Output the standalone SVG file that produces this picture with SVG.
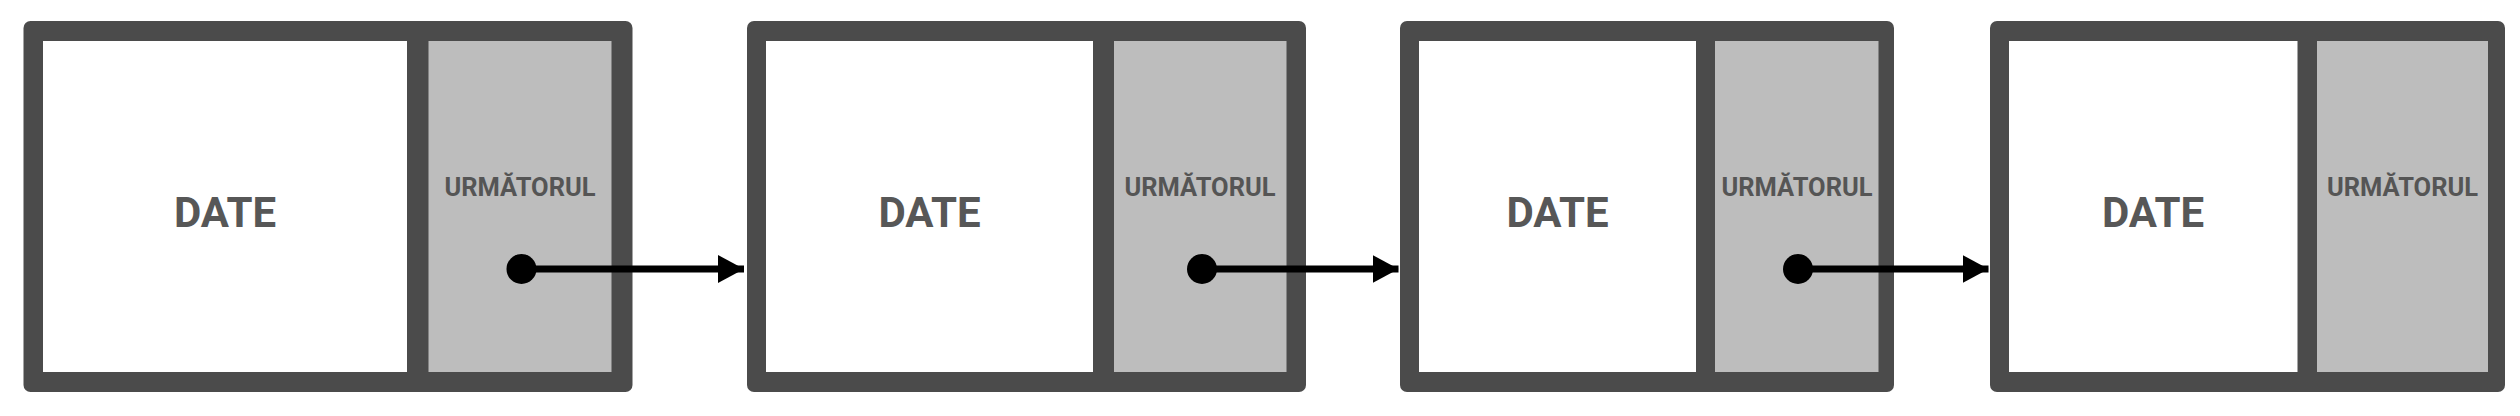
<svg xmlns="http://www.w3.org/2000/svg" width="2520" height="416" viewBox="0 0 2520 416">
  <defs>
    <style>
      .frame { fill: #4b4b4b; }
      .data { fill: #ffffff; }
      .next { fill: #bdbdbd; }
      .t-data { font-family: Roboto, "Liberation Sans", sans-serif; font-weight: bold; font-size: 42px; fill: #575757; text-anchor: middle; }
      .t-next { font-family: Roboto, "Liberation Sans", sans-serif; font-weight: bold; font-size: 25px; fill: #555555; text-anchor: middle; }
      .link { stroke: #000000; stroke-width: 7; fill: none; marker-start: url(#dot); marker-end: url(#arrow); }
    </style>
    <marker id="arrow" markerUnits="userSpaceOnUse" viewBox="0 0 26 28" markerWidth="26" markerHeight="28" refX="26" refY="14" orient="auto">
      <path d="M0,0 L26,14 L0,28 Z" fill="#000000"/>
    </marker>
    <marker id="dot" markerUnits="userSpaceOnUse" viewBox="-16 -16 32 32" markerWidth="32" markerHeight="32" refX="0" refY="0" orient="auto">
      <circle cx="0" cy="0" r="15" fill="#000000"/>
    </marker>
  </defs>
  <rect x="0" y="0" width="2520" height="416" fill="#ffffff"/>

  <g id="node1">
    <rect class="frame" x="23.5" y="21" width="609" height="371" rx="7"/>
    <rect class="data" x="43" y="41" width="364" height="331"/>
    <rect class="next" x="428.5" y="41" width="183" height="331"/>
    <text class="t-data" x="225" y="226.5">DATE</text>
    <text class="t-next" x="520" y="196" textLength="151" lengthAdjust="spacingAndGlyphs">URMĂTORUL</text>
  </g>

  <g id="node2">
    <rect class="frame" x="747" y="21" width="559" height="371" rx="7"/>
    <rect class="data" x="766" y="41" width="327" height="331"/>
    <rect class="next" x="1114" y="41" width="172.5" height="331"/>
    <text class="t-data" x="929.5" y="226.5">DATE</text>
    <text class="t-next" x="1200" y="196" textLength="151" lengthAdjust="spacingAndGlyphs">URMĂTORUL</text>
  </g>

  <g id="node3">
    <rect class="frame" x="1400" y="21" width="494" height="371" rx="7"/>
    <rect class="data" x="1419" y="41" width="277" height="331"/>
    <rect class="next" x="1715" y="41" width="163.5" height="331"/>
    <text class="t-data" x="1557.5" y="226.5">DATE</text>
    <text class="t-next" x="1797" y="196" textLength="151" lengthAdjust="spacingAndGlyphs">URMĂTORUL</text>
  </g>

  <g id="node4">
    <rect class="frame" x="1990" y="21" width="515" height="371" rx="7"/>
    <rect class="data" x="2009" y="41" width="288.5" height="331"/>
    <rect class="next" x="2317" y="41" width="171" height="331"/>
    <text class="t-data" x="2153" y="226.5">DATE</text>
    <text class="t-next" x="2402.5" y="196" textLength="151" lengthAdjust="spacingAndGlyphs">URMĂTORUL</text>
  </g>

  <g id="connectors">
    <path class="link" d="M521.5,269 L744,269"/>
    <path class="link" d="M1202,269 L1398.5,269"/>
    <path class="link" d="M1798,269 L1988.5,269"/>
  </g>
</svg>
